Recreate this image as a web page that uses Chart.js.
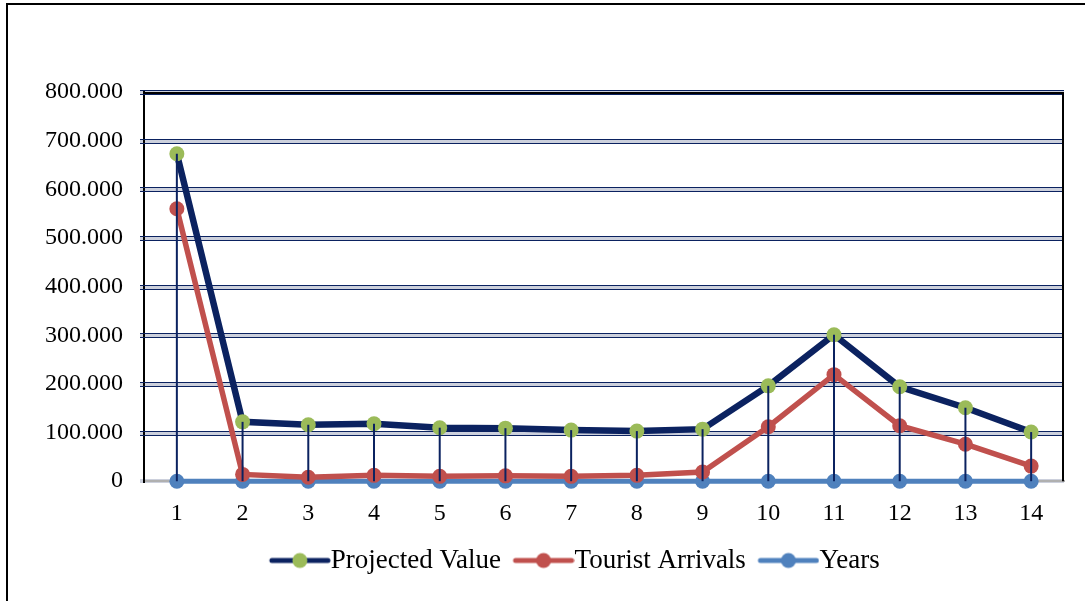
<!DOCTYPE html>
<html>
<head>
    <title>Projected Value vs Tourist Arrivals</title>
    <script src="https://cdn.jsdelivr.net/npm/chart.js"></script>
    <style>
        html, body { margin: 0; padding: 0; background: #fff; overflow: hidden; }
        #wrap { position: relative; width: 1085px; height: 601px; }
        #frame { position: absolute; left: 6px; top: 3px; width: 1200px; height: 700px;
                 border-left: 2px solid #000; border-top: 2px solid #000; pointer-events: none; }
    </style>
</head>
<body>
    <div id="wrap">
        <canvas id="line-chart" width="1085" height="601"></canvas>
        <div id="frame"></div>
    </div>

    <script>
        // x categories
        const periods = ['1', '2', '3', '4', '5', '6', '7', '8', '9', '10', '11', '12', '13', '14'];

        // series values
        const projectedValue = [673000, 122000, 116000, 118000, 110000, 109000, 105000, 103000, 107000, 196000, 301000, 194000, 151000, 101000];
        const touristArrivals = [560000, 14000, 8000, 12000, 10000, 11000, 10000, 12000, 19000, 112000, 219000, 114000, 76000, 31000];
        const years = [1, 2, 3, 4, 5, 6, 7, 8, 9, 10, 11, 12, 13, 14];

        // y axis ticks
        const yTicks = [0, 100000, 200000, 300000, 400000, 500000, 600000, 700000, 800000];

        const NAVY = '#0b2260';
        const GREEN = '#9bbb59';
        const RED = '#c0504d';
        const BLUE = '#4f81bd';
        const FONT = "'Liberation Serif', 'Times New Roman', serif";

        // format 800000 -> "800.000"
        function fmt(v) {
            if (v === 0) return '0';
            return String(Math.round(v)).replace(/\B(?=(\d{3})+(?!\d))/g, '.');
        }

        // legend icon: short line with a dot, pushed to the right side of the canvas
        function legendIcon(lineColor, dotColor) {
            const c = document.createElement('canvas');
            c.width = 86;
            c.height = 18;
            const ctx = c.getContext('2d');
            const x0 = 24;
            ctx.strokeStyle = lineColor;
            ctx.lineWidth = 5;
            ctx.lineCap = 'round';
            ctx.beginPath();
            ctx.moveTo(x0 + 3, 9);
            ctx.lineTo(x0 + 59, 9);
            ctx.stroke();
            ctx.fillStyle = dotColor;
            ctx.beginPath();
            ctx.arc(x0 + 31, 9, 7.5, 0, Math.PI * 2);
            ctx.fill();
            return c;
        }

        // double grid lines, top/right frame, drop lines, legend nudge
        const decor = {
            id: 'decor',
            afterLayout(chart) {
                // legend in the reference is centred a bit right of the canvas centre
                chart.legend.left += 37;
                chart.legend.right += 37;
            },
            beforeDatasetsDraw(chart) {
                const { ctx, chartArea, scales } = chart;
                ctx.save();
                ctx.strokeStyle = NAVY;
                ctx.lineWidth = 1;
                yTicks.forEach(v => {
                    if (v === 0) return;
                    const y = scales.y.getPixelForValue(v);
                    [y - 2, y + 2].forEach(yy => {
                        ctx.beginPath();
                        ctx.moveTo(chartArea.left - 4, Math.round(yy) + 0.5);
                        ctx.lineTo(chartArea.right, Math.round(yy) + 0.5);
                        ctx.stroke();
                    });
                });
                // top and right frame
                ctx.strokeStyle = '#000';
                ctx.lineWidth = 2;
                ctx.beginPath();
                ctx.moveTo(chartArea.left, chartArea.top + 1);
                ctx.lineTo(chartArea.right - 1, chartArea.top + 1);
                ctx.lineTo(chartArea.right - 1, chartArea.bottom);
                ctx.stroke();
                ctx.restore();
            },
            afterDatasetsDraw(chart) {
                const { ctx, scales } = chart;
                ctx.save();
                ctx.strokeStyle = NAVY;
                ctx.lineWidth = 2;
                const y0 = scales.y.getPixelForValue(0);
                projectedValue.forEach((v, i) => {
                    const x = scales.x.getPixelForValue(i);
                    ctx.beginPath();
                    ctx.moveTo(x, scales.y.getPixelForValue(v));
                    ctx.lineTo(x, y0);
                    ctx.stroke();
                });
                ctx.restore();
            }
        };

        const icons = [legendIcon(NAVY, GREEN), legendIcon(RED, RED), legendIcon(BLUE, BLUE)];

        new Chart(document.getElementById('line-chart').getContext('2d'), {
            type: 'line',
            data: {
                labels: periods,
                datasets: [
                    {
                        label: 'Projected Value',
                        data: projectedValue,
                        borderColor: NAVY,
                        borderWidth: 6.5,
                        pointRadius: 7.5,
                        pointBackgroundColor: GREEN,
                        pointBorderWidth: 0,
                        clip: false
                    },
                    {
                        label: 'Tourist Arrivals',
                        data: touristArrivals,
                        borderColor: RED,
                        borderWidth: 5.5,
                        pointRadius: 7.5,
                        pointBackgroundColor: RED,
                        pointBorderWidth: 0,
                        clip: false
                    },
                    {
                        label: 'Years',
                        data: years,
                        borderColor: BLUE,
                        borderWidth: 5,
                        pointRadius: 7.5,
                        pointBackgroundColor: BLUE,
                        pointBorderWidth: 0,
                        clip: false
                    }
                ]
            },
            options: {
                responsive: false,
                animation: false,
                events: [],
                layout: { padding: { left: 0, right: 21, top: 92, bottom: 17 } },
                scales: {
                    x: {
                        offset: true,
                        grid: { display: false, drawTicks: false },
                        border: { display: true, color: '#b0b0b0', width: 2 },
                        ticks: { color: '#000', font: { family: FONT, size: 24 }, padding: 18 }
                    },
                    y: {
                        min: 0,
                        max: 800000,
                        afterFit(scale) { scale.width = 144; },
                        afterBuildTicks(scale) { scale.ticks = yTicks.map(v => ({ value: v })); },
                        grid: { color: '#ccd0dc', lineWidth: 4, tickLength: 4 },
                        border: { display: true, color: '#000', width: 2 },
                        ticks: {
                            color: '#000',
                            font: { family: FONT, size: 24 },
                            padding: 17,
                            callback: v => fmt(v)
                        }
                    }
                },
                plugins: {
                    tooltip: { enabled: false },
                    legend: {
                        position: 'bottom',
                        labels: {
                            usePointStyle: true,
                            pointStyleWidth: 59,
                            padding: 1,
                            color: '#000',
                            font: { family: FONT, size: 27 },
                            generateLabels(chart) {
                                return chart.data.datasets.map((ds, i) => ({
                                    text: ds.label,
                                    pointStyle: icons[i],
                                    datasetIndex: i,
                                    fontColor: '#000',
                                    hidden: false
                                }));
                            }
                        }
                    }
                }
            },
            plugins: [decor]
        });
    </script>
</body>
</html>
